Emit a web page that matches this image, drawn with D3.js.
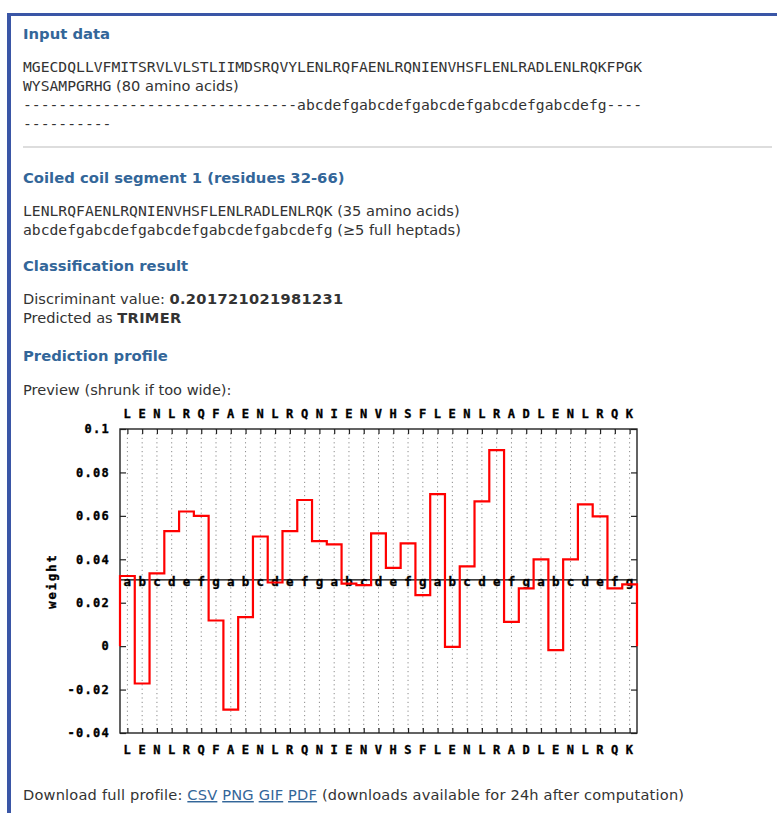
<!DOCTYPE html>
<html><head><meta charset="utf-8">
<script src="https://cdn.jsdelivr.net/npm/d3@7"></script>
<style>
html,body{margin:0;padding:0;background:#fff;}
svg{display:block;}
.sans{font-family:"DejaVu Sans",Verdana,sans-serif;font-size:14.6px;fill:#333;}
.mono{font-family:"DejaVu Sans Mono",monospace;font-size:14.7px;fill:#333;}
.h{font-family:"DejaVu Sans",Verdana,sans-serif;font-weight:bold;font-size:14.8px;fill:#336699;}
.px{font-family:"DejaVu Sans Mono",monospace;font-weight:bold;font-size:12px;fill:#000;stroke:#000;stroke-width:0.35px;}
</style></head><body><div id="page"></div>
<script>
// ---- data ----
const fullSequence = "MGECDQLLVFMITSRVLVLSTLIIMDSRQVYLENLRQFAENLRQNIENVHSFLENLRADLENLRQKFPGKWYSAMPGRHG";
const registerString = "-------------------------------abcdefgabcdefgabcdefgabcdefgabcdefg--------------";
const residues = "LENLRQFAENLRQNIENVHSFLENLRADLENLRQK".split("");
const heptad = "abcdefgabcdefgabcdefgabcdefgabcdefg".split("");
const weights = [0.0323,-0.0172,0.0335,0.053,0.062,0.060,0.0118,-0.0292,0.0134,0.0505,
  0.0293,0.053,0.0673,0.0484,0.0469,0.0288,0.0281,0.0519,0.036,0.0473,
  0.0235,0.070,-0.0003,0.0367,0.0667,0.0903,0.0112,0.0266,0.040,-0.0018,
  0.040,0.0653,0.0598,0.0266,0.0284];
const yTicks = [0.1,0.08,0.06,0.04,0.02,0,-0.02,-0.04];
const yTickLabels = ["0.1","0.08","0.06","0.04","0.02","0","-0.02","-0.04"];
const threshold = 0.0305;
const discriminant = "0.201721021981231";
const prediction = "TRIMER";
const downloads = ["CSV","PNG","GIF","PDF"];

// ---- page ----
const W = 777, H = 813;
const svg = d3.select("#page").append("svg").attr("width", W).attr("height", H);

svg.append("rect").attr("x",7).attr("y",13).attr("width",W-7).attr("height",3).attr("fill","#3a56a6");
svg.append("rect").attr("x",7).attr("y",13).attr("width",4).attr("height",H-13).attr("fill","#3a56a6");

const L = 23;
function text(cls, y, s){ return svg.append("text").attr("class",cls).attr("x",L).attr("y",y).text(s); }

text("h", 39, "Input data");
text("mono", 71.5, fullSequence.slice(0,70));
const l2 = text("mono", 90.5, fullSequence.slice(70));
l2.append("tspan").attr("class","sans").text(" (" + fullSequence.length + " amino acids)");
text("mono", 109.5, registerString.slice(0,70));
text("mono", 128.5, registerString.slice(70));

svg.append("rect").attr("x",L).attr("y",146).attr("width",749).attr("height",2).attr("fill","#dddddd");

text("h", 182.5, "Coiled coil segment 1 (residues 32-66)");
const s1 = text("mono", 216, residues.join(""));
s1.append("tspan").attr("class","sans").text(" (" + residues.length + " amino acids)");
const s2 = text("mono", 234.5, heptad.join(""));
s2.append("tspan").attr("class","sans").text(" (\u22655 full heptads)");

text("h", 271, "Classification result");
const d1 = text("sans", 304, "Discriminant value: ");
d1.append("tspan").attr("font-weight","bold").style("letter-spacing","0.35px").text(discriminant);
const d2 = text("sans", 322.5, "Predicted as ");
d2.append("tspan").attr("font-weight","bold").style("letter-spacing","0.3px").text(prediction);

text("h", 361, "Prediction profile");
text("sans", 394.5, "Preview (shrunk if too wide):");

const dl = text("sans", 800, "Download full profile: ").style("letter-spacing","0.19px");
downloads.forEach((d,i)=>{
  dl.append("tspan").attr("fill","#336699").attr("text-decoration","underline").text(d);
  dl.append("tspan").text(" ");
});
dl.append("tspan").text("(downloads available for 24h after computation)");

// ---- chart ----
const x0 = 120, x1 = 637, y0 = 429, y1 = 733;
const x = d3.scaleLinear().domain([0, residues.length]).range([x0, x1]);
const y = d3.scaleLinear().domain([-0.04, 0.1]).range([y1, y0]);
const centers = residues.map((r,i)=>i+0.5);
const g = svg.append("g");

// dotted grid
g.selectAll("line.grid").data(centers).join("line").attr("class","grid")
  .attr("x1",d=>x(d)).attr("x2",d=>x(d)).attr("y1",y0).attr("y2",y1)
  .attr("stroke","#8a8a8a").attr("stroke-width",1).attr("stroke-dasharray","1.2,3.2");

// axes
function styleAxis(sel){
  sel.select(".domain").remove();
  sel.selectAll(".tick line").attr("stroke","#222").attr("stroke-width",1.2);
  sel.selectAll(".tick text").attr("class","px").attr("fill","#000").style("letter-spacing","1.3px");
}
g.append("g").attr("transform",`translate(${x0},0)`)
  .call(d3.axisLeft(y).tickValues(yTicks).tickSize(-6).tickPadding(10).tickFormat((d,i)=>yTickLabels[i]))
  .call(styleAxis);
g.append("g").attr("transform",`translate(${x1},0)`)
  .call(d3.axisRight(y).tickValues(yTicks).tickSize(-6).tickFormat(""))
  .call(styleAxis);
g.append("g").attr("transform",`translate(0,${y0})`)
  .call(d3.axisTop(x).tickValues(centers).tickSize(-5).tickPadding(11).tickFormat((d,i)=>residues[i]))
  .call(styleAxis);
g.append("g").attr("transform",`translate(0,${y1})`)
  .call(d3.axisBottom(x).tickValues(centers).tickSize(-5).tickPadding(12.5).tickFormat((d,i)=>residues[i]))
  .call(styleAxis);

// threshold line + heptad letters
g.append("line").attr("x1",x0).attr("x2",x1).attr("y1",y(threshold)).attr("y2",y(threshold))
  .attr("stroke","#000").attr("stroke-width",1.3);
g.selectAll("text.hep").data(heptad).join("text").attr("class","px hep")
  .attr("x",(d,i)=>x(i+0.5)).attr("y",y(threshold)+6.5).attr("text-anchor","middle")
  .style("font-size","12.5px").text(d=>d);

// frame
g.append("rect").attr("x",x0).attr("y",y0).attr("width",x1-x0).attr("height",y1-y0)
  .attr("fill","none").attr("stroke","#222").attr("stroke-width",1.4);

// y label
g.append("text").attr("class","px").attr("transform",`translate(56,${(y0+y1)/2}) rotate(-90)`)
  .attr("text-anchor","middle").style("letter-spacing","2px").text("weight");

// profile step line
const pts = [[0,0]];
weights.forEach((w,i)=>{ pts.push([i,w]); pts.push([i+1,w]); });
pts.push([residues.length,0]);
g.append("path").datum(pts)
  .attr("d", d3.line().x(d=>x(d[0])).y(d=>y(d[1])))
  .attr("fill","none").attr("stroke","#ff0000").attr("stroke-width",2.2).attr("stroke-linejoin","miter");
</script></body></html>
